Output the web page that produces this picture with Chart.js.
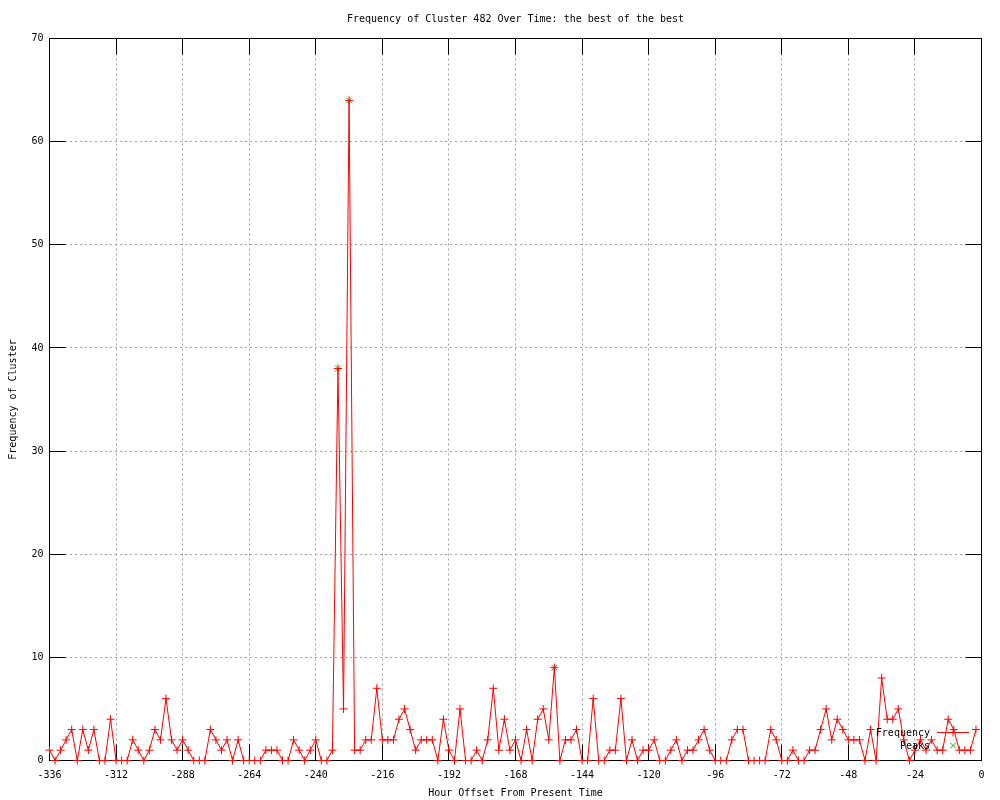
<!DOCTYPE html>
<html>
<head>
<meta charset="utf-8">
<title>Frequency of Cluster 482 Over Time</title>
<script src="https://cdn.jsdelivr.net/npm/chart.js@4.4.0/dist/chart.umd.min.js"></script>
<style>
  html, body { margin: 0; padding: 0; background: #fff; }
</style>
</head>
<body>
<canvas id="chart" width="1000" height="800"></canvas>
<script>
// hour offsets (x) and cluster frequency (y), one row = 24 hours
const hours = [
  -336, -334, -332, -330, -328, -326, -324, -322, -320, -318, -316, -314,
  -312, -310, -308, -306, -304, -302, -300, -298, -296, -294, -292, -290,
  -288, -286, -284, -282, -280, -278, -276, -274, -272, -270, -268, -266,
  -264, -262, -260, -258, -256, -254, -252, -250, -248, -246, -244, -242,
  -240, -238, -236, -234, -232, -230, -228, -226, -224, -222, -220, -218,
  -216, -214, -212, -210, -208, -206, -204, -202, -200, -198, -196, -194,
  -192, -190, -188, -186, -184, -182, -180, -178, -176, -174, -172, -170,
  -168, -166, -164, -162, -160, -158, -156, -154, -152, -150, -148, -146,
  -144, -142, -140, -138, -136, -134, -132, -130, -128, -126, -124, -122,
  -120, -118, -116, -114, -112, -110, -108, -106, -104, -102, -100, -98,
  -96, -94, -92, -90, -88, -86, -84, -82, -80, -78, -76, -74,
  -72, -70, -68, -66, -64, -62, -60, -58, -56, -54, -52, -50,
  -48, -46, -44, -42, -40, -38, -36, -34, -32, -30, -28, -26,
  -24, -22, -20, -18, -16, -14, -12, -10, -8, -6, -4, -2
];

const frequency = [
  1, 0, 1, 2, 3, 0, 3, 1, 3, 0, 0, 4,
  0, 0, 0, 2, 1, 0, 1, 3, 2, 6, 2, 1,
  2, 1, 0, 0, 0, 3, 2, 1, 2, 0, 2, 0,
  0, 0, 0, 1, 1, 1, 0, 0, 2, 1, 0, 1,
  2, 0, 0, 1, 38, 5, 64, 1, 1, 2, 2, 7,
  2, 2, 2, 4, 5, 3, 1, 2, 2, 2, 0, 4,
  1, 0, 5, 0, 0, 1, 0, 2, 7, 1, 4, 1,
  2, 0, 3, 0, 4, 5, 2, 9, 0, 2, 2, 3,
  0, 0, 6, 0, 0, 1, 1, 6, 0, 2, 0, 1,
  1, 2, 0, 0, 1, 2, 0, 1, 1, 2, 3, 1,
  0, 0, 0, 2, 3, 3, 0, 0, 0, 0, 3, 2,
  0, 0, 1, 0, 0, 1, 1, 3, 5, 2, 4, 3,
  2, 2, 2, 0, 3, 0, 8, 4, 4, 5, 2, 0,
  1, 2, 1, 2, 1, 1, 4, 3, 1, 1, 1, 3
];

const peakHours = [-232, -228, -154];
const peakValues = [38, 64, 9];

const xTickValues = [-336, -312, -288, -264, -240, -216, -192, -168, -144, -120, -96, -72, -48, -24, 0];
const yTickValues = [0, 10, 20, 30, 40, 50, 60, 70];

const FONT = "'DejaVu Sans Mono', monospace";
const TIC = 16; // gnuplot style inward tick length

// border + mirrored inward ticks, like gnuplot draws them
const gnuFrame = {
    id: 'gnuFrame',
    beforeDatasetsDraw(chart) {
        const { ctx, chartArea: a, scales } = chart;
        ctx.save();
        ctx.strokeStyle = '#000';
        ctx.lineWidth = 1;
        ctx.beginPath();
        scales.x.ticks.forEach(t => {
            const px = Math.round(scales.x.getPixelForValue(t.value) - 0.5) + 0.5;
            ctx.moveTo(px, a.bottom); ctx.lineTo(px, a.bottom - TIC);
            ctx.moveTo(px, a.top); ctx.lineTo(px, a.top + TIC);
        });
        scales.y.ticks.forEach(t => {
            const py = Math.round(scales.y.getPixelForValue(t.value) - 0.5) + 0.5;
            ctx.moveTo(a.left, py); ctx.lineTo(a.left + TIC, py);
            ctx.moveTo(a.right, py); ctx.lineTo(a.right - TIC, py);
        });
        ctx.stroke();
        ctx.strokeRect(a.left, a.top, a.right - a.left, a.bottom - a.top);
        ctx.restore();
    },
    afterDatasetsDraw(chart) {
        // key in the lower right corner of the plot
        const { ctx } = chart;
        const textRight = 930, lineL = 937, lineR = 969, sampleX = 953;
        const rows = [733, 746];
        ctx.save();
        ctx.font = '10px ' + FONT;
        ctx.fillStyle = '#000';
        ctx.textAlign = 'right';
        ctx.textBaseline = 'middle';
        chart.data.datasets.forEach((ds, i) => {
            const y = rows[i];
            ctx.fillText(ds.label, textRight, y);
            ctx.strokeStyle = ds.borderColor;
            ctx.lineWidth = 1;
            if (ds.showLine !== false) {
                ctx.beginPath();
                ctx.moveTo(lineL, y - 0.5);
                ctx.lineTo(lineR, y - 0.5);
                ctx.stroke();
            }
            Chart.helpers.drawPoint(ctx, {
                pointStyle: ds.pointStyle, radius: ds.pointRadius, borderWidth: 1, rotation: 0
            }, sampleX, y - 0.5);
        });
        ctx.restore();
    }
};

const ctx = document.getElementById('chart').getContext('2d');
const chart = new Chart(ctx, {
    type: 'line',
    data: {
        datasets: [
            {
                label: 'Frequency',
                data: hours.map((h, i) => ({ x: h, y: frequency[i] })),
                borderColor: '#ff0000',
                backgroundColor: '#ff0000',
                borderWidth: 1,
                pointStyle: 'cross',
                pointRadius: 4,
                pointBorderWidth: 1,
                pointBorderColor: '#ff0000',
                tension: 0,
                fill: false,
                clip: false
            },
            {
                label: 'Peaks',
                data: peakHours.map((h, i) => ({ x: h, y: peakValues[i] })),
                borderColor: '#00c000',
                backgroundColor: '#00c000',
                showLine: false,
                pointStyle: 'crossRot',
                pointRadius: 4,
                pointBorderWidth: 1,
                pointBorderColor: '#00c000',
                clip: false
            }
        ]
    },
    options: {
        responsive: false,
        animation: false,
        devicePixelRatio: 1,
        layout: { padding: { top: 0, right: 18.5, bottom: 0, left: 0 } },
        plugins: {
            legend: { display: false },
            tooltip: { enabled: false },
            title: {
                display: true,
                text: 'Frequency of Cluster 482 Over Time: the best of the best',
                color: '#000',
                fullSize: false,
                font: { family: FONT, size: 10, weight: 'normal' },
                padding: { top: 13, bottom: 13.5 }
            }
        },
        scales: {
            x: {
                type: 'linear',
                min: -336,
                max: 0,
                afterBuildTicks: scale => { scale.ticks = xTickValues.map(v => ({ value: v })); },
                afterFit: scale => { scale.height = 39.5; },
                ticks: {
                    color: '#000',
                    font: { family: FONT, size: 10 },
                    padding: 9,
                    maxRotation: 0,
                    autoSkip: false
                },
                grid: { color: '#a0a0a0', lineWidth: 1, drawTicks: false },
                border: { display: false, dash: [2, 3] },
                title: {
                    display: true,
                    text: 'Hour Offset From Present Time',
                    color: '#000',
                    font: { family: FONT, size: 10 },
                    padding: { top: 0, bottom: 1 }
                }
            },
            y: {
                min: 0,
                max: 70,
                afterBuildTicks: scale => { scale.ticks = yTickValues.map(v => ({ value: v })); },
                afterFit: scale => { scale.width = 49.5; },
                ticks: {
                    color: '#000',
                    font: { family: FONT, size: 10 },
                    padding: 6
                },
                grid: { color: '#a0a0a0', lineWidth: 1, drawTicks: false },
                border: { display: false, dash: [2, 3] },
                title: {
                    display: true,
                    text: 'Frequency of Cluster',
                    color: '#000',
                    font: { family: FONT, size: 10 },
                    padding: { top: 7, bottom: 0 }
                }
            }
        }
    },
    plugins: [gnuFrame]
});
</script>
</body>
</html>
